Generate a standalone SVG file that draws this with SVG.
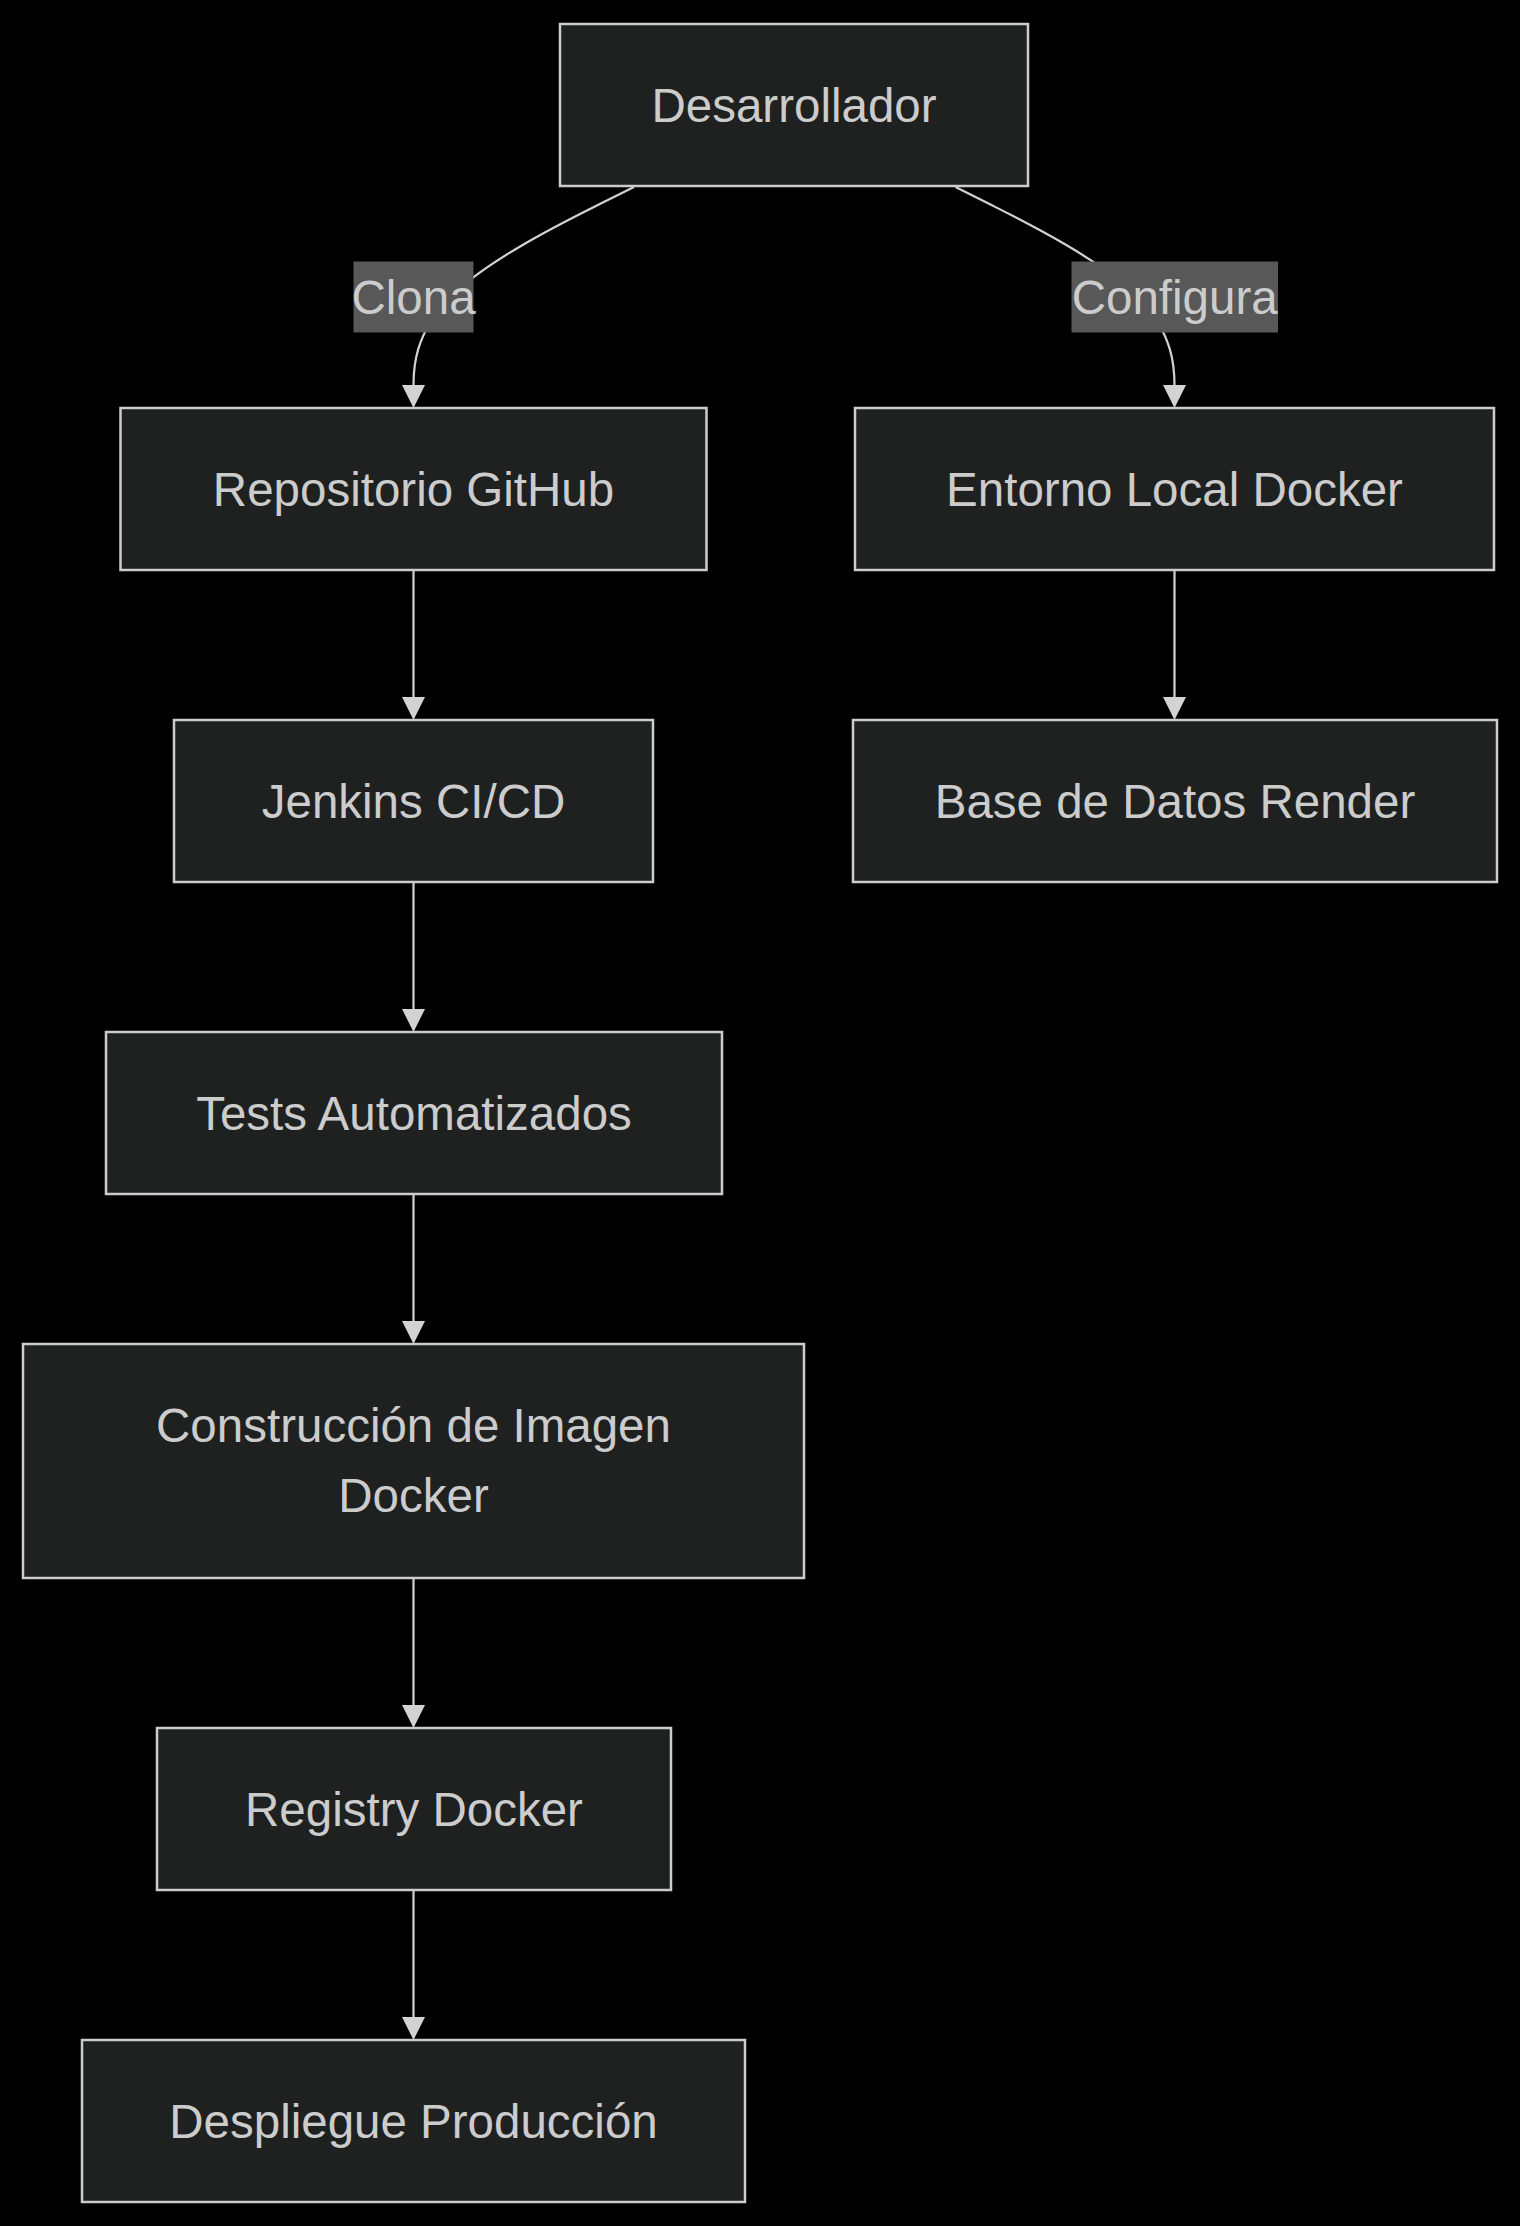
<svg xmlns="http://www.w3.org/2000/svg" width="1520" height="2226" viewBox="0 0 1520 2226">
<style>
.bg{fill:#000000}
.node rect{fill:#1f2020;stroke:#cccccc;stroke-width:2.5}
.node text,.lbl text{font-family:"Liberation Sans",Arial,sans-serif;font-size:47.5px;fill:#cccccc;text-anchor:middle}
.edge{fill:none;stroke:#d3d3d3;stroke-width:2.2}
.lbl rect{fill:#585858}
</style>
<defs>
<marker id="arrow" viewBox="0 0 10 10" refX="0" refY="5" markerWidth="23" markerHeight="23" markerUnits="userSpaceOnUse" orient="auto">
<path d="M0,0 L10,5 L0,10 z" fill="#d3d3d3"/>
</marker>
</defs>
<rect class="bg" x="0" y="0" width="1520" height="2226"/>
<g id="connectors">
<path class="edge" d="M634,187 L597.3,205.3 C560.5,223.7 487,260.3 450.3,297.2 C413.5,334 413.5,371 413.5,385" marker-end="url(#arrow)"/>
<path class="edge" d="M955.5,187 L992,205.3 C1028.5,223.7 1101.5,260.3 1138,297.2 C1174.5,334 1174.5,371 1174.5,385" marker-end="url(#arrow)"/>
<path class="edge" d="M413.5,571 L413.5,697" marker-end="url(#arrow)"/>
<path class="edge" d="M413.5,883 L413.5,1009" marker-end="url(#arrow)"/>
<path class="edge" d="M413.5,1195 L413.5,1321" marker-end="url(#arrow)"/>
<path class="edge" d="M413.5,1579 L413.5,1705" marker-end="url(#arrow)"/>
<path class="edge" d="M413.5,1891 L413.5,2017" marker-end="url(#arrow)"/>
<path class="edge" d="M1174.5,571 L1174.5,697" marker-end="url(#arrow)"/>
</g>
<g id="edge-labels">
<g class="lbl" id="label-clona"><rect x="353.5" y="261.5" width="120" height="71"/><text x="413.5" y="314">Clona</text></g>
<g class="lbl" id="label-configura"><rect x="1071.5" y="261.5" width="206.5" height="71"/><text x="1174.7" y="314">Configura</text></g>
</g>
<g class="node" id="desarrollador"><rect x="560" y="24" width="468" height="162"/><text x="794" y="121.5">Desarrollador</text></g>
<g class="node" id="repositorio"><rect x="120.5" y="408" width="586" height="162"/><text x="413.5" y="505.5">Repositorio GitHub</text></g>
<g class="node" id="entorno"><rect x="855" y="408" width="639" height="162"/><text x="1174.5" y="505.5">Entorno Local Docker</text></g>
<g class="node" id="jenkins"><rect x="174" y="720" width="479" height="162"/><text x="413.5" y="817.5">Jenkins CI/CD</text></g>
<g class="node" id="basedatos"><rect x="853" y="720" width="644" height="162"/><text x="1175" y="817.5">Base de Datos Render</text></g>
<g class="node" id="tests"><rect x="106" y="1032" width="616" height="162"/><text x="414" y="1129.5">Tests Automatizados</text></g>
<g class="node" id="construccion"><rect x="23" y="1344" width="781" height="234"/><text x="413.5" y="1441.5">Construcción de Imagen</text><text x="413.5" y="1511.5">Docker</text></g>
<g class="node" id="registry"><rect x="157" y="1728" width="514" height="162"/><text x="414" y="1825.5">Registry Docker</text></g>
<g class="node" id="despliegue"><rect x="82" y="2040" width="663" height="162"/><text x="413.5" y="2137.5">Despliegue Producción</text></g>
</svg>
